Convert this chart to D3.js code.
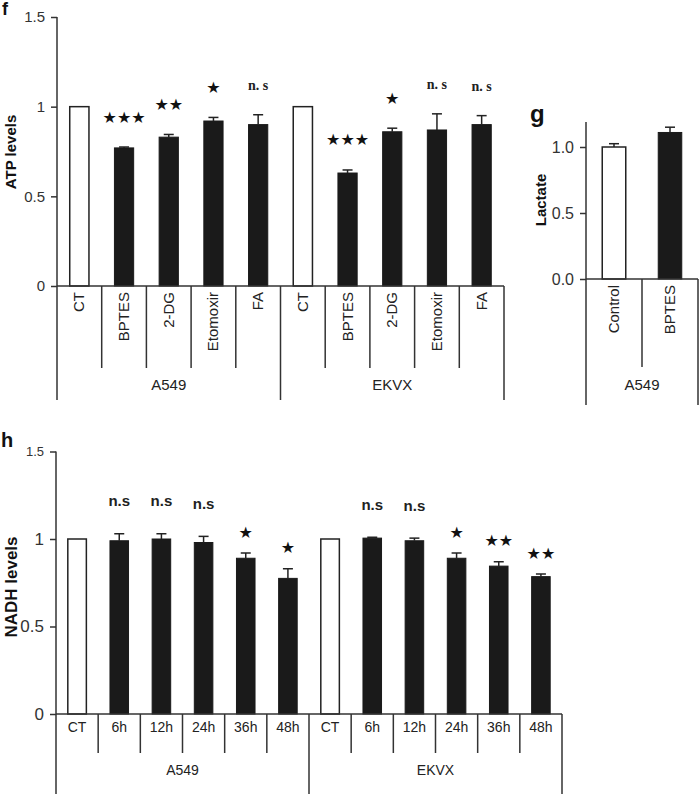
<!DOCTYPE html>
<html lang="en">
<head>
  <meta charset="UTF-8" />
  <title>ATP, lactate and NADH levels</title>
  <style>
    body { margin: 0; background: #fff; }
    svg { font-family: Arial, "Liberation Sans", sans-serif; }
    .frame { stroke: #333; stroke-width: 1.5px; fill: none; }
    .bar-white { fill: #fff; stroke: #222; stroke-width: 1.5px; }
    .bar-black { fill: #1a1a1a; stroke: #1a1a1a; stroke-width: 1px; }
    .err { stroke: #222; stroke-width: 1.5px; fill: none; }
    .star { font-family: "DejaVu Sans", sans-serif; fill: #111; }
    .ns-serif { font-family: "Liberation Serif", "DejaVu Serif", serif; font-weight: bold; fill: #222; }
    .ns-sans { font-weight: bold; fill: #222; }
  </style>
</head>
<body>
  <script src="https://cdn.jsdelivr.net/npm/d3@7"></script>
  <script>
    // panel f : ATP levels
    var fCats = ["CT", "BPTES", "2-DG", "Etomoxir", "FA", "CT", "BPTES", "2-DG", "Etomoxir", "FA"];
    var fGroups = ["A549", "EKVX"];
    var fValues = [1.0, 0.77, 0.83, 0.92, 0.90, 1.0, 0.63, 0.86, 0.87, 0.90];
    var fErrors = [0, 0.005, 0.015, 0.02, 0.055, 0, 0.017, 0.02, 0.09, 0.05];
    var fSig = ["", "★★★", "★★", "★", "n. s", "", "★★★", "★", "n. s", "n. s"];
    var fTicks = [0, 0.5, 1, 1.5];

    // panel g : lactate
    var gCats = ["Control", "BPTES"];
    var gGroups = ["A549"];
    var gValues = [1.0, 1.11];
    var gErrors = [0.025, 0.04];
    var gTicks = [0, 0.5, 1.0];

    // panel h : NADH levels
    var hCats = ["CT", "6h", "12h", "24h", "36h", "48h", "CT", "6h", "12h", "24h", "36h", "48h"];
    var hGroups = ["A549", "EKVX"];
    var hValues = [1.0, 0.99, 1.0, 0.98, 0.89, 0.775, 1.0, 1.005, 0.99, 0.89, 0.845, 0.785];
    var hErrors = [0, 0.04, 0.03, 0.035, 0.03, 0.055, 0, 0.005, 0.015, 0.03, 0.025, 0.015];
    var hSig = ["", "n.s", "n.s", "n.s", "★", "★", "", "n.s", "n.s", "★", "★★", "★★"];
    var hTicks = [0, 0.5, 1, 1.5];

    var W = 700, H = 794;
    var svg = d3.select("body").append("svg")
      .attr("width", W)
      .attr("height", H);

    function drawPanel(p) {
      var g = svg.append("g");
      var n = p.cats.length;
      var perGroup = n / p.groups.length;

      var x = d3.scaleBand()
        .domain(d3.range(n))
        .range([p.left, p.right])
        .paddingInner(0)
        .paddingOuter(0);

      var y = d3.scaleLinear()
        .domain([0, p.yMax])
        .range([p.bottom, p.top]);

      var bw = x.bandwidth() * p.barFrac;

      // bars
      g.selectAll("rect.bar")
        .data(p.values)
        .enter()
        .append("rect")
        .attr("class", function(d, i) {
          return p.white.indexOf(i) >= 0 ? "bar bar-white" : "bar bar-black";
        })
        .attr("x", function(d, i) { return x(i) + (x.bandwidth() - bw) / 2; })
        .attr("y", function(d) { return y(d); })
        .attr("width", bw)
        .attr("height", function(d) { return y(0) - y(d); });

      // error bars (upper only)
      p.values.forEach(function(v, i) {
        var e = p.errors[i];
        if (!e) return;
        var cx = x(i) + x.bandwidth() / 2;
        g.append("line").attr("class", "err")
          .attr("x1", cx).attr("x2", cx)
          .attr("y1", y(v)).attr("y2", y(v + e));
        g.append("line").attr("class", "err")
          .attr("x1", cx - 5).attr("x2", cx + 5)
          .attr("y1", y(v + e)).attr("y2", y(v + e));
      });

      // significance marks
      if (p.sig) {
        p.sig.forEach(function(s, i) {
          if (!s) return;
          var cx = x(i) + x.bandwidth() / 2;
          var top = y(p.values[i] + p.errors[i]);
          var isStar = s.indexOf("★") >= 0;
          g.append("text")
            .attr("class", isStar ? "star" : p.nsClass)
            .attr("x", cx)
            .attr("y", top - (isStar ? p.starOff : p.nsOff))
            .attr("text-anchor", "middle")
            .attr("dominant-baseline", "central")
            .style("font-size", isStar ? p.starSize : p.nsSize)
            .text(s);
        });
      }

      // y axis
      var yAxis = d3.axisLeft(y)
        .tickValues(p.ticks)
        .tickSize(6)
        .tickSizeOuter(0)
        .tickPadding(6)
        .tickFormat(p.tickFormat);
      var ya = g.append("g")
        .attr("transform", "translate(" + p.left + ",0)")
        .call(yAxis);
      ya.select(".domain").remove();
      ya.selectAll(".tick line").attr("stroke", "#333").attr("stroke-width", 1.5);
      ya.selectAll(".tick text")
        .attr("fill", "#333")
        .style("font-family", "Arial, 'Liberation Sans', sans-serif")
        .style("font-size", function(d) {
          return (p.tickSizes && p.tickSizes[d]) ? p.tickSizes[d] : p.tickSize;
        });
      g.append("line").attr("class", "frame")
        .attr("x1", p.left).attr("x2", p.left)
        .attr("y1", p.axisTop).attr("y2", p.bottom);

      // x axis baseline
      g.append("line").attr("class", "frame")
        .attr("x1", p.left).attr("x2", p.right)
        .attr("y1", p.bottom).attr("y2", p.bottom);

      // category dividers
      for (var i = 0; i <= n; i++) {
        var xx = (i === n) ? p.right : x(i);
        var isGroupEdge = (i % perGroup === 0);
        g.append("line").attr("class", "frame")
          .attr("x1", xx).attr("x2", xx)
          .attr("y1", p.bottom)
          .attr("y2", isGroupEdge ? p.longEnd : p.shortEnd);
      }

      // category labels
      p.cats.forEach(function(c, i) {
        var cx = x(i) + x.bandwidth() / 2;
        var t = g.append("text")
          .attr("fill", "#222")
          .style("font-size", p.catSize)
          .text(c);
        if (p.rotate) {
          t.attr("transform", "translate(" + (cx + 5) + "," + (p.bottom + 6) + ") rotate(-90)")
            .attr("text-anchor", "end");
        } else {
          t.attr("x", cx).attr("y", p.bottom + 18).attr("text-anchor", "middle");
        }
      });

      // group labels
      p.groups.forEach(function(gr, k) {
        var x0 = x(k * perGroup);
        var x1 = (k + 1) * perGroup >= n ? p.right : x((k + 1) * perGroup);
        g.append("text")
          .attr("x", (x0 + x1) / 2)
          .attr("y", p.groupY)
          .attr("text-anchor", "middle")
          .attr("fill", "#222")
          .style("font-size", p.catSize)
          .text(gr);
      });

      // y label
      g.append("text")
        .attr("transform", "translate(" + p.yLabelX + "," + p.yLabelY + ") rotate(-90)")
        .attr("text-anchor", "middle")
        .attr("font-weight", "bold")
        .attr("fill", "#111")
        .style("font-size", p.yLabelSize)
        .text(p.yLabel);

      // panel letter
      g.append("text")
        .attr("x", p.letterX).attr("y", p.letterY)
        .attr("font-weight", "bold")
        .attr("fill", "#111")
        .style("font-size", p.letterSize)
        .text(p.letter);
    }

    drawPanel({
      cats: fCats, groups: fGroups, values: fValues, errors: fErrors, sig: fSig,
      white: [0, 5], ticks: fTicks, tickFormat: d3.format(""),
      left: 57, right: 504, bottom: 286, top: 17, axisTop: 17, yMax: 1.5,
      barFrac: 0.43, rotate: true, catSize: "15px", tickSize: "15px",
      shortEnd: 368, longEnd: 400, groupY: 390,
      starOff: 30, nsOff: 29, starSize: "16px", nsSize: "14px", nsClass: "ns-serif",
      yLabel: "ATP levels", yLabelX: 16, yLabelY: 152, yLabelSize: "15px",
      letter: "f", letterX: 2, letterY: 15, letterSize: "18px"
    });

    drawPanel({
      cats: gCats, groups: gGroups, values: gValues, errors: gErrors, sig: null,
      white: [0], ticks: gTicks, tickFormat: d3.format(".1f"),
      left: 586, right: 698, bottom: 279, top: 120.6, axisTop: 122, yMax: 1.2,
      barFrac: 0.42, rotate: true, catSize: "15px", tickSize: "16px",
      shortEnd: 367, longEnd: 405, groupY: 390,
      yLabel: "Lactate", yLabelX: 546, yLabelY: 200, yLabelSize: "15px",
      letter: "g", letterX: 530, letterY: 122, letterSize: "24px"
    });

    drawPanel({
      cats: hCats, groups: hGroups, values: hValues, errors: hErrors, sig: hSig,
      white: [0, 6], ticks: hTicks, tickFormat: d3.format(""),
      left: 56, right: 562, bottom: 714, top: 451.5, axisTop: 451.5, yMax: 1.5,
      barFrac: 0.44, rotate: false, catSize: "14px", tickSize: "17px",
      tickSizes: { 1.5: "13px" },
      shortEnd: 753, longEnd: 794, groupY: 775,
      starOff: 21, nsOff: 33, starSize: "16px", nsSize: "15px", nsClass: "ns-sans",
      yLabel: "NADH levels", yLabelX: 17, yLabelY: 587, yLabelSize: "17px",
      letter: "h", letterX: 1, letterY: 447, letterSize: "20px"
    });
  </script>
</body>
</html>
